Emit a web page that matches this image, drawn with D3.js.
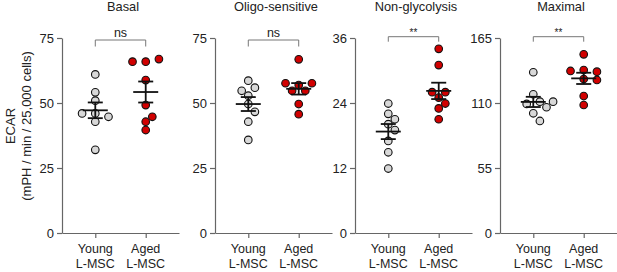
<!DOCTYPE html>
<html><head><meta charset="utf-8">
<script src="https://cdn.jsdelivr.net/npm/d3@7"></script>
<style>
body{margin:0;background:#fff;}
svg{display:block;font-family:"Liberation Sans",Arial,sans-serif;}
</style>
</head><body>
<svg id="c" width="617" height="272"></svg>
<script>
// ---- data ----
const panelTitles = ["Basal", "Oligo-sensitive", "Non-glycolysis", "Maximal"];
const groups = ["Young L-MSC", "Aged L-MSC"];
const groupLabelLines = [["Young", "L-MSC"], ["Aged", "L-MSC"]];
const yMax = [75, 75, 36, 165];
const yTickValues = [[0, 25, 50, 75], [0, 25, 50, 75], [0, 12, 24, 36], [0, 55, 110, 165]];
const significance = ["ns", "ns", "**", "**"];

const basalYoung = [61.0, 54.1, 50.9, 46.0, 44.7, 46.0, 42.8, 32.0];
const basalAged = [65.9, 66.9, 65.9, 58.8, 49.2, 42.8, 39.6, 44.7];
const oligoYoung = [58.6, 55.9, 54.7, 52.8, 49.6, 46.6, 42.8, 35.8];
const oligoAged = [66.8, 56.9, 57.6, 57.6, 54.7, 54.7, 49.6, 45.7];
const nonglyYoung = [23.9, 22.0, 21.0, 20.1, 19.0, 17.0, 14.9, 11.9];
const nonglyAged = [34.0, 31.0, 25.0, 26.0, 26.0, 23.9, 23.0, 21.0];
const maximalYoung = [136.0, 117.4, 111.1, 109.2, 111.1, 106.4, 101.3, 94.8];
const maximalAged = [151.2, 137.9, 136.5, 137.1, 130.3, 129.5, 115.9, 108.3];

const panelData = [
  [basalYoung, basalAged],
  [oligoYoung, oligoAged],
  [nonglyYoung, nonglyAged],
  [maximalYoung, maximalAged]
];

// ---- layout / style ----
const axisX = [62, 215, 355, 500];
const plotW = 117, plotTop = 38, plotBottom = 233;
const fills = ["#d8d8d8", "#d10000"];
const axisColor = "#666";

const svg = d3.select("#c");

function swarm(values, cx, y) {
  const placed = [];
  const step = 6.6, D = 8;
  return values.map(v => {
    const py = y(v);
    for (let k = 0; k < 30; k++) {
      const off = k === 0 ? 0 : (k % 2 === 1 ? 1 : -1) * Math.ceil(k / 2) * step;
      const px = cx + off;
      if (placed.every(p => Math.hypot(p[0] - px, p[1] - py) >= D)) {
        placed.push([px, py]);
        return {v, px, py};
      }
    }
    return {v, px: cx, py};
  });
}

panelTitles.forEach((title, i) => {
  const x0 = axisX[i];
  const g = svg.append("g");
  const x = d3.scalePoint().domain(groups).range([x0, x0 + plotW]).padding(0.66);
  const y = d3.scaleLinear().domain([0, yMax[i]]).range([plotBottom, plotTop]);

  const ya = g.append("g").attr("transform", `translate(${x0},0)`)
    .call(d3.axisLeft(y).tickValues(yTickValues[i]).tickSize(5).tickSizeOuter(0).tickPadding(3));
  const xa = g.append("g").attr("transform", `translate(0,${plotBottom})`)
    .call(d3.axisBottom(x).tickSize(5).tickSizeOuter(0).tickFormat(""));
  [ya, xa].forEach(a => {
    a.select(".domain").attr("stroke", axisColor).attr("stroke-width", 1.2);
    a.selectAll(".tick line").attr("stroke", axisColor).attr("stroke-width", 1.2);
  });
  ya.selectAll(".tick text").attr("font-size", 13).attr("fill", "#222")
    .attr("font-family", "Liberation Sans, Arial, sans-serif");

  groups.forEach((grp, j) => {
    const t = g.append("text").attr("x", x(grp)).attr("text-anchor", "middle")
      .attr("font-size", 12.5).attr("fill", "#222");
    groupLabelLines[j].forEach((line, k) => {
      t.append("tspan").attr("x", x(grp)).attr("y", 253 + k * 14.5).text(line);
    });
  });

  g.append("text").attr("x", x0 + 61).attr("y", 11).attr("text-anchor", "middle")
    .attr("font-size", 12.8).attr("fill", "#222").text(title);

  const bY = significance[i] === "ns" ? 40 : 36.7;
  const leg = significance[i] === "ns" ? 6.5 : 5;
  const xa1 = x(groups[0]), xa2 = x(groups[1]);
  g.append("path")
    .attr("d", `M${xa1},${bY + leg}V${bY}H${xa2}V${bY + leg}`)
    .attr("fill", "none").attr("stroke", "#777").attr("stroke-width", 1);
  if (significance[i] === "ns") {
    g.append("text").attr("x", (xa1 + xa2) / 2).attr("y", 36.5).attr("text-anchor", "middle")
      .attr("font-size", 12.5).attr("fill", "#222").text("ns");
  } else {
    g.append("text").attr("x", (xa1 + xa2) / 2).attr("y", 36).attr("text-anchor", "middle")
      .attr("font-size", 10).attr("fill", "#222").text("**");
  }

  panelData[i].forEach((vals, j) => {
    const cx = x(groups[j]);
    const pts = swarm(vals, cx, y);
    g.selectAll(null).data(pts).join("circle")
      .attr("cx", d => d.px).attr("cy", d => d.py).attr("r", 3.8)
      .attr("fill", fills[j]).attr("stroke", "#111").attr("stroke-width", 1.1);
    const m = d3.mean(vals);
    const sem = d3.deviation(vals) / Math.sqrt(vals.length);
    const lw = 1.8;
    g.append("line").attr("x1", cx - 12.5).attr("x2", cx + 12.5)
      .attr("y1", y(m)).attr("y2", y(m)).attr("stroke", "#111").attr("stroke-width", lw);
    g.append("line").attr("x1", cx).attr("x2", cx)
      .attr("y1", y(m + sem)).attr("y2", y(m - sem)).attr("stroke", "#111").attr("stroke-width", lw);
    [m + sem, m - sem].forEach(v => {
      g.append("line").attr("x1", cx - 7.5).attr("x2", cx + 7.5)
        .attr("y1", y(v)).attr("y2", y(v)).attr("stroke", "#111").attr("stroke-width", lw);
    });
  });
});

const yc = 126;
svg.append("text").attr("transform", `translate(15,${yc}) rotate(-90)`)
  .attr("text-anchor", "middle").attr("font-size", 13).attr("fill", "#222").text("ECAR");
svg.append("text").attr("transform", `translate(31,${yc}) rotate(-90)`)
  .attr("text-anchor", "middle").attr("font-size", 13).attr("fill", "#222").text("(mPH / min / 25,000 cells)");
</script>
</body></html>
